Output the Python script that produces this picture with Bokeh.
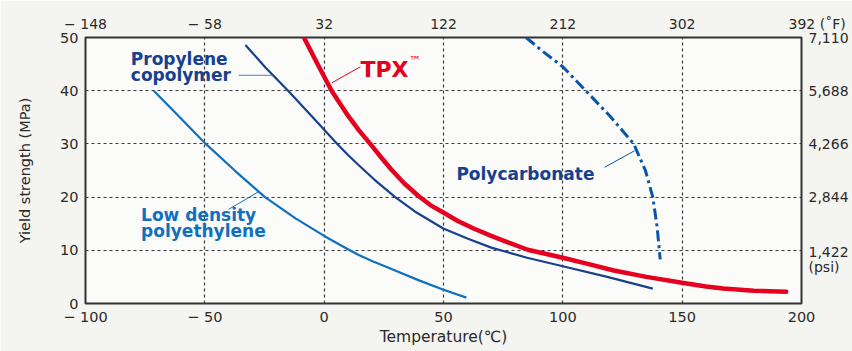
from bokeh.plotting import figure
from bokeh.models import LinearAxis, FixedTicker, Label
from bokeh.embed import file_html
from bokeh.resources import INLINE

# ---- data ----
tpx_t = [-8.5, -3.0, 3.1, 10, 14.5, 19.3, 24, 28.3, 33.5, 39.5, 44.5, 49.9, 56, 63.1, 70, 77, 85.3,
         92.2, 100, 110, 121.4, 135, 149.9, 160, 167.2, 180, 193.6]
tpx_y = [50, 45.2, 40, 35.3, 32.6, 30, 27.4, 25.1, 22.6, 20.2, 18.5, 17.1, 15.5, 14.0, 12.7, 11.5, 10.1,
         9.4, 8.6, 7.5, 6.2, 5.0, 3.9, 3.2, 2.8, 2.4, 2.2]

pp_t = [-33, -24.5, -15.1, -5, 5.5, 10, 14.5, 21, 29.75, 38, 49.9, 60, 70, 85, 100, 118.6, 137.7]
pp_y = [48.6, 44.3, 40, 35.1, 30, 27.9, 26.0, 23.3, 20, 17.3, 14.1, 12.2, 10.5, 8.6, 7.0, 5.0, 2.8]

ldpe_t = [-71.4, -60.5, -49.6, -37, -24.8, -12, 0, 10.3, 14.5, 20, 27, 29.7, 40, 50, 59.6]
ldpe_y = [40, 35, 30, 24.8, 20, 16.0, 12.7, 10.1, 9.1, 8.0, 6.7, 6.2, 4.3, 2.6, 1.1]

pc_t = [84.6, 92, 100, 109.6, 120, 129.7, 134.6, 137.7, 139.5, 140.8]
pc_y = [50, 47.25, 44.5, 40, 35.1, 30, 25, 20, 14.4, 8.3]

c_ticks = [-100, -50, 0, 50, 100, 150, 200]
c_labels = ["\u2212 100", "\u2212 50", "0", "50", "100", "150", "200"]
f_labels = ["\u2212 148", "\u2212 58", "32", "122", "212", "302",
            "\u2007\u2007\u2007\u00a0392\u00a0(\u02daF)"]
mpa_ticks = [0, 10, 20, 30, 40, 50]
psi_ticks = [6.9, 9.6, 20, 30, 40, 50]
psi_labels = ["(psi)", "1,422", "2,844", "4,266", "5,688", "7,110"]

RED = "#e60020"
NAVY = "#17408f"
LBLUE = "#1070c0"
PCBLUE = "#0a55a5"
TXT = "#2a2a2a"
FONT = "DejaVu Sans"

p = figure(width=852, height=351, x_range=(-100, 200), y_range=(0, 50),
           output_backend="svg", toolbar_location=None,
           min_border_left=85, min_border_right=51, min_border_top=37, min_border_bottom=48,
           background_fill_color="#fbfbf9", border_fill_color="#f4f4f1")

p.outline_line_color = "#333333"
p.outline_line_width = 2

def style_axis(ax, size="14.5px"):
    ax.axis_line_color = None
    ax.major_tick_line_color = None
    ax.minor_tick_line_color = None
    ax.major_tick_out = 0
    ax.major_tick_in = 0
    ax.minor_tick_out = 0
    ax.minor_tick_in = 0
    ax.major_label_text_font = FONT
    ax.major_label_text_font_size = size
    ax.major_label_text_color = TXT
    ax.major_label_standoff = 5
    ax.axis_label_text_font = FONT
    ax.axis_label_text_font_style = "normal"
    ax.axis_label_text_color = TXT

xb = p.xaxis[0]
xb.ticker = FixedTicker(ticks=c_ticks)
xb.major_label_overrides = dict(zip(c_ticks, c_labels))
xb.axis_label = "Temperature(\u2103)"
style_axis(xb)
xb.axis_label_text_font_size = "15.5px"
xb.axis_label_standoff = 0

yl = p.yaxis[0]
yl.ticker = FixedTicker(ticks=mpa_ticks)
yl.axis_label = "Yield strength (MPa)"
style_axis(yl)
yl.major_label_standoff = 7
yl.axis_label_text_font_size = "14.5px"
yl.axis_label_standoff = 24

xt = LinearAxis(ticker=FixedTicker(ticks=c_ticks),
                major_label_overrides=dict(zip(c_ticks, f_labels)))
style_axis(xt, "14px")
xt.major_label_standoff = 6
p.add_layout(xt, "above")

yr = LinearAxis(ticker=FixedTicker(ticks=psi_ticks),
                major_label_overrides=dict(zip(psi_ticks, psi_labels)))
style_axis(yr, "14px")
yr.major_label_standoff = 7
p.add_layout(yr, "right")

p.xgrid.ticker = FixedTicker(ticks=[-50, 0, 50, 100, 150])
p.ygrid.ticker = FixedTicker(ticks=[10, 20, 30, 40])
for g in (p.xgrid[0], p.ygrid[0]):
    g.grid_line_color = "#3a3a3a"
    g.grid_line_dash = "3 3"
    g.grid_line_width = 1.2

# curves
p.line(ldpe_t, ldpe_y, line_color=LBLUE, line_width=2.2, line_join="round")
p.line(pp_t, pp_y, line_color=NAVY, line_width=2.2, line_join="round")
p.line(pc_t, pc_y, line_color=PCBLUE, line_width=3, line_dash="11 4 3 4", line_join="round")
p.line(tpx_t, tpx_y, line_color=RED, line_width=4.5, line_join="round", line_cap="round")

# leader lines
p.line([-35.8, -21.7], [42.9, 42.9], line_color="#4a80c8", line_width=1)
p.line([3.3, 15.2], [41.5, 44.5], line_color=RED, line_width=1)
p.line([-40, -27.5], [17.7, 21.0], line_color=LBLUE, line_width=1)
p.line([117.5, 130], [25.6, 28.7], line_color=PCBLUE, line_width=1)

def lab(x, y, text, color, size, style="bold"):
    p.add_layout(Label(x=x, y=y, text=text, text_color=color, text_font=FONT,
                       text_font_size=size, text_font_style=style,
                       text_align="left", text_baseline="middle"))

lab(-81, 46.0, "Propylene", NAVY, "17px")
lab(-81, 43.0, "copolymer", NAVY, "17px")
lab(15.2, 44.0, "TPX", RED, "22px")
lab(35.4, 45.5, "\u2122", RED, "12px", "normal")
lab(-76.7, 16.6, "Low density", LBLUE, "17px")
lab(-76.7, 13.6, "polyethylene", LBLUE, "17px")
lab(55.4, 24.3, "Polycarbonate", NAVY, "17px")

open("out.html", "w").write(file_html(p, INLINE))
